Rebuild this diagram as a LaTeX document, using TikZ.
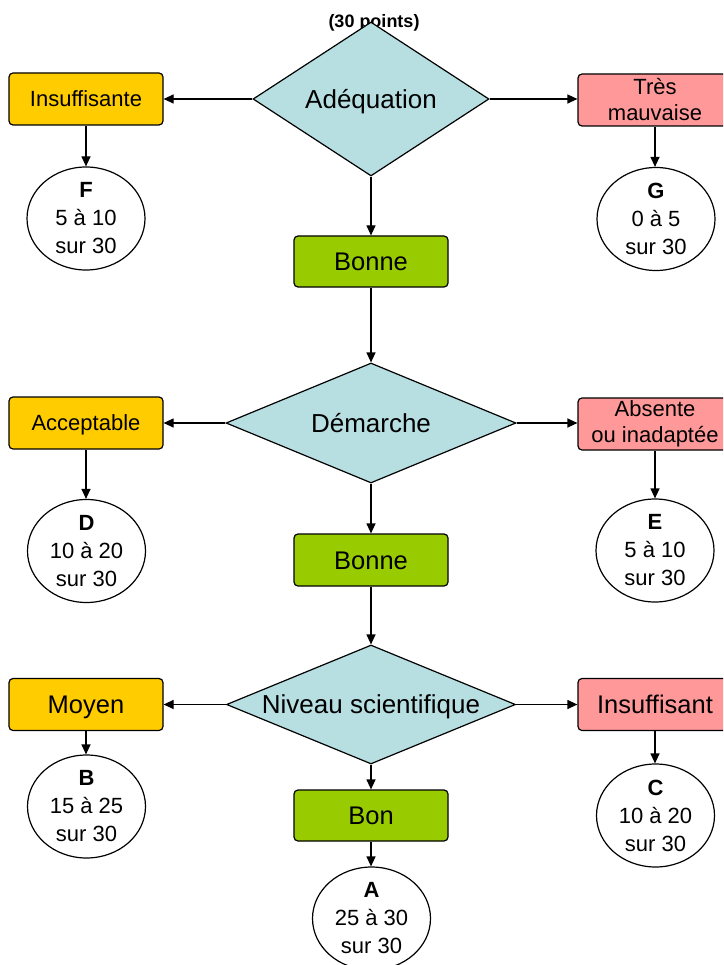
\documentclass[tikz,border=0pt]{standalone}
\usepackage{fontspec}
\setmainfont{Liberation Sans}
\usetikzlibrary{shapes.geometric,arrows.meta}
\definecolor{dia}{HTML}{B7DFE2}
\definecolor{gold}{HTML}{FFCC00}
\definecolor{pinkbox}{HTML}{FF9999}
\definecolor{grn}{HTML}{99CC00}
\begin{document}
\begin{tikzpicture}[x=1pt,y=-1pt, line width=1.2pt,
  box/.style={draw, rounded corners=4pt, minimum width=154pt, minimum height=52pt, inner sep=0pt, align=center},
  small/.style={font=\fontsize{22}{26}\selectfont},
  big/.style={font=\fontsize{25.5}{29}\selectfont},
  smallone/.style={small, text height=15.8pt, text depth=0pt},
  bigone/.style={big, text height=18.3pt, text depth=0pt},
  goodbox/.style={box, fill=grn, bigone},
  okbox/.style={box, fill=gold},
  badbox/.style={box, fill=pinkbox},
  dec/.style={draw, diamond, fill=dia, inner sep=0pt},
  dectext/.style={font=\fontsize{26}{30}\selectfont, inner sep=0pt, text height=18.7pt, text depth=0pt},
  res/.style={draw, ellipse, fill=white, inner sep=0pt, minimum width=118pt, minimum height=103pt},
  restext/.style={align=center, inner sep=0pt, font=\fontsize{22}{28}\selectfont},
  arr/.style={-{Triangle[length=10pt,width=9pt]}}]
\clip (0,0) rectangle (723,965);
% title
\node[inner sep=0pt, text height=12.9pt, text depth=0pt] (title) at (374,21) {\fontsize{18}{20}\selectfont\bfseries (30 points)};
% row 1
\node[dec, minimum width=236pt, minimum height=154pt] (d1) at (371,99) {};
\node[dectext] (d1t) at (d1) {Adéquation};
\node[okbox, smallone] (l1) at (86,99) {Insuffisante};
\node[badbox, small] (r1) at (655,100) {Très\\mauvaise};
\node[res] (F) at (86,218.5) {};
\node[restext] (Ft) at (F) {\textbf{F}\\5 à 10\\sur 30};
\node[res] (G) at (656,219) {};
\node[restext] (Gt) at (G) {\textbf{G}\\0 à 5\\sur 30};
\node[goodbox, minimum height=51pt] (g1) at (371,261.5) {Bonne};
% row 2
\node[dec, minimum width=290pt, minimum height=120pt] (d2) at (371,423) {};
\node[dectext] (d2t) at (d2) {Démarche};
\node[okbox, smallone] (l2) at (86,423) {Acceptable};
\node[badbox, small] (r2) at (655,424) {Absente\\ou inadaptée};
\node[res] (D) at (86.5,551) {};
\node[restext] (Dt) at (D) {\textbf{D}\\10 à 20\\sur 30};
\node[res] (E) at (655,550.5) {};
\node[restext] (Et) at (E) {\textbf{E}\\5 à 10\\sur 30};
\node[goodbox] (g2) at (371,560) {Bonne};
% row 3
\node[dec, minimum width=289pt, minimum height=119pt] (d3) at (371,704.5) {};
\node[dectext] (d3t) at (d3) {Niveau scientifique};
\node[okbox, bigone] (l3) at (86,704.5) {Moyen};
\node[badbox, bigone] (r3) at (655,704.5) {Insuffisant};
\node[res] (B) at (86.5,806.5) {};
\node[restext] (Bt) at (B) {\textbf{B}\\15 à 25\\sur 30};
\node[res] (C) at (655.5,815.5) {};
\node[restext] (Ct) at (C) {\textbf{C}\\10 à 20\\sur 30};
\node[goodbox, minimum height=51pt] (g3) at (371,815.5) {Bon};
\node[res] (A) at (371.5,918.5) {};
\node[restext] (At) at (A) {\textbf{A}\\25 à 30\\sur 30};
% connectors
\draw[arr] (d1.west) -- (l1.east);
\draw[arr] (d1.east) -- (r1.west |- d1.east);
\draw[arr] (l1.south) -- (l1.south |- F.north);
\draw[arr] (r1.south) -- (r1.south |- G.north);
\draw[arr] (d1.south) -- (d1.south |- g1.north);
\draw[arr] (g1.south) -- (g1.south |- d2.north);
\draw[arr] (d2.west) -- (l2.east);
\draw[arr] (d2.east) -- (r2.west |- d2.east);
\draw[arr] (l2.south) -- (l2.south |- D.north);
\draw[arr] (r2.south) -- (r2.south |- E.north);
\draw[arr] (d2.south) -- (d2.south |- g2.north);
\draw[arr] (g2.south) -- (g2.south |- d3.north);
\draw[arr] (d3.west) -- (l3.east);
\draw[arr] (d3.east) -- (r3.west);
\draw[arr] (l3.south) -- (l3.south |- B.north);
\draw[arr] (r3.south) -- (r3.south |- C.north);
\draw[arr] (d3.south) -- (d3.south |- g3.north);
\draw[arr] (g3.south) -- (g3.south |- A.north);
\end{tikzpicture}
\end{document}
